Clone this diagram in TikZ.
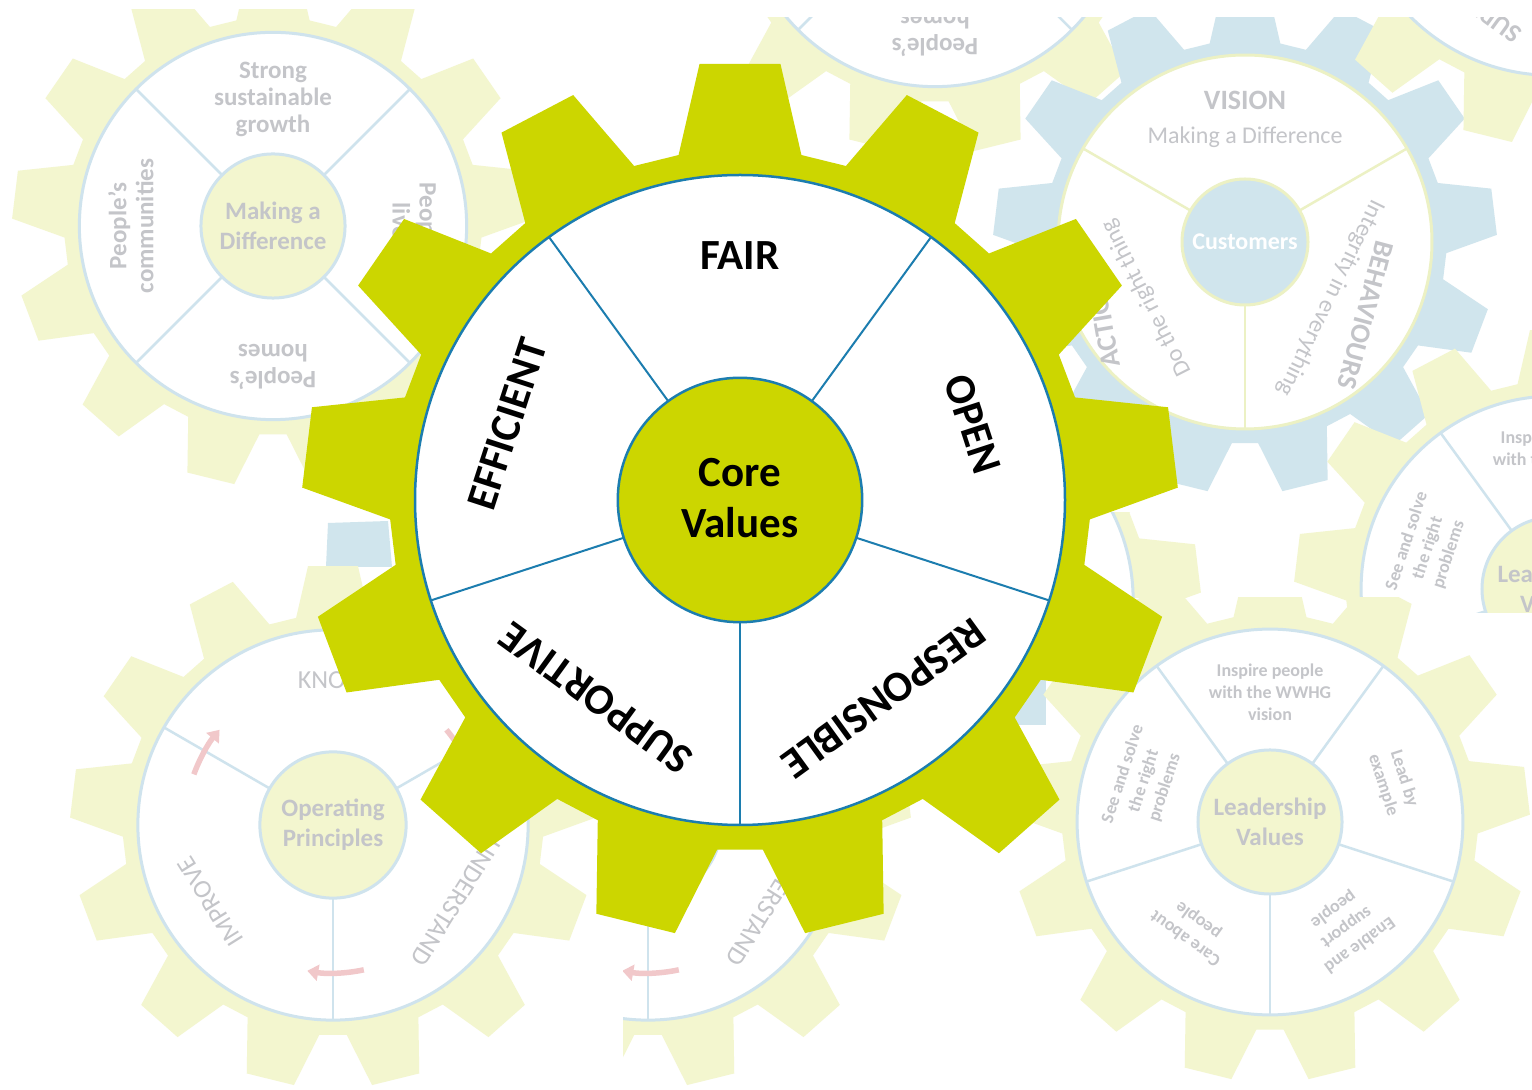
\documentclass[tikz,border=0pt]{standalone}
\usepackage{fontspec}
\setmainfont{Carlito}
\usetikzlibrary{arrows.meta}

\definecolor{cvgreen}{RGB}{204,214,0}
\definecolor{cvblue}{RGB}{28,125,175}
\definecolor{palegreen}{RGB}{243,246,207}
\definecolor{paleblue}{RGB}{208,229,237}
\definecolor{paleline}{RGB}{207,227,237}
\definecolor{paleyel}{RGB}{236,241,196}
\definecolor{txtgray}{RGB}{196,197,201}
\definecolor{palepink}{RGB}{241,200,202}

% 13-tooth gear outline on the unit circle (tip radius 1, root radius 0.8)
\newcommand{\gearbody}[1]{%
  \fill[#1] (79.9:0.8) \foreach \k in {0,...,12}{
     -- ({90+\k*27.6923-10.1}:0.8) -- ({90+\k*27.6923-5.3}:1)
     -- ({90+\k*27.6923+5.3}:1) -- ({90+\k*27.6923+10.1}:0.8)} -- cycle;}

% "Making a Difference" gear, four sectors
\newcommand{\diffgear}[1]{%
  \gearbody{palegreen}
  \filldraw[fill=white, pline] (0,0) circle (0.742);
  \foreach \a in {45,135,225,315} \draw[pdiv] (\a:0.276) -- (\a:0.742);
  \filldraw[fill=palegreen, pline] (0,0) circle (0.276);
  \node[gcore] (#1core) at (0,0) {Making a\\Difference};
  \node[gtxt] (#1top) at (90:0.485) {Strong\\sustainable\\growth};
  \node[gtxt, rotate=90] (#1left) at (180:0.545) {People’s\\communities};
  \node[gtxt, rotate=180] (#1bot) at (270:0.54) {People’s\\homes};
  \node[gtxt, rotate=-90] (#1right) at (0:0.545) {People’s\\lives};}

% "Operating Principles" gear, three sectors with turning arrows
\newcommand{\opgear}[1]{%
  \gearbody{palegreen}
  \filldraw[fill=white, pline] (0,0) circle (0.742);
  \foreach \a in {150,30,270} \draw[pdiv] (\a:0.278) -- (\a:0.742);
  \filldraw[fill=palegreen, pline] (0,0) circle (0.278);
  \draw[turnarrow] (160:0.563) arc[start angle=160, end angle=140, radius=0.563];
  \draw[turnarrow] (40:0.563) arc[start angle=40, end angle=20, radius=0.563];
  \draw[turnarrow] (-78:0.563) arc[start angle=-78, end angle=-100, radius=0.563];
  \node[gcore] (#1core) at (0,0) {Operating\\Principles};
  \node[optxt] (#1know) at (90:0.55) {KNOW};
  \node[optxt, rotate=122] (#1imp) at (212:0.55) {IMPROVE};
  \node[optxt, rotate=-122] (#1und) at (328:0.55) {UNDERSTAND};}

% "Leadership Values" gear, five sectors
\newcommand{\leadgear}[1]{%
  \gearbody{palegreen}
  \filldraw[fill=white, pline] (0,0) circle (0.742);
  \foreach \a in {126,54,-18,-90,198} \draw[pdiv] (\a:0.277) -- (\a:0.742);
  \filldraw[fill=palegreen, pline] (0,0) circle (0.277);
  \node[gcore] (#1core) at (0,0) {Leadership\\Values};
  \node[ltxt] (#1top) at (90:0.5) {Inspire people\\with the WWHG\\vision};
  \node[ltxt, rotate=-72] (#1right) at (18:0.5) {Lead by\\example};
  \node[ltxt, rotate=-144] (#1br) at (-54:0.5) {Enable and\\support\\people};
  \node[ltxt, rotate=144] (#1bl) at (234:0.51) {Care about\\people};
  \node[ltxt, rotate=72] (#1left) at (162:0.51) {See and solve\\the right\\problems};}

\begin{document}
\begin{tikzpicture}[x=1pt, y=1pt,
  gtxt/.style={text=txtgray, font=\bfseries\fontsize{25}{27}\selectfont, align=center, inner sep=0pt},
  gcore/.style={text=txtgray, font=\bfseries\fontsize{25}{30}\selectfont, align=center, inner sep=0pt},
  ltxt/.style={text=txtgray, font=\bfseries\fontsize{18}{22}\selectfont, align=center, inner sep=0pt},
  optxt/.style={text=txtgray, font=\fontsize{26}{30}\selectfont, inner sep=0pt},
  bhead/.style={text=txtgray, font=\bfseries\fontsize{28}{32}\selectfont, inner sep=0pt},
  bsub/.style={text=txtgray, font=\fontsize{24}{28}\selectfont, inner sep=0pt},
  mainlbl/.style={text=black, font=\bfseries\fontsize{43}{51}\selectfont, inner sep=0pt},
  palelbl/.style={text=txtgray, font=\bfseries\fontsize{26}{30}\selectfont, inner sep=0pt},
  pline/.style={draw=paleline, line width=3pt},
  pdiv/.style={paleline, line width=2.5pt},
  turnarrow/.style={palepink, line width=5.5pt, -{Triangle[width=16pt,length=11pt]}},
]
\useasboundingbox (0,0) rectangle (1532,1090);
\fill[white] (0,0) rectangle (1532,1090);

% ---- faded gears in the background ----
\begin{scope}
  \clip (0,0) rectangle (1532,1072);
  % upper middle copy of the "Making a Difference" gear
  \begin{scope}[shift={(935,1197)}, scale=261]
    \diffgear{dgb-}
  \end{scope}
\end{scope}

\begin{scope}
  \clip (0,0) rectangle (1532,1080);
  \begin{scope}[shift={(273,864)}, scale=261]
    \diffgear{dga-}
  \end{scope}
\end{scope}

\begin{scope}
  \clip (0,0) rectangle (1532,1072);
  % vision gear
  \begin{scope}[shift={(1245,848)}, scale=252]
    \gearbody{paleblue}
    \filldraw[fill=white, draw=paleyel, line width=3pt] (0,0) circle (0.742);
    \foreach \a in {150,30,270} \draw[paleyel, line width=2.5pt] (\a:0.25) -- (\a:0.742);
    \filldraw[fill=paleblue, draw=paleyel, line width=3pt] (0,0) circle (0.25);
    \node[text=white, font=\bfseries\fontsize{24}{28}\selectfont, inner sep=0pt] (cust) at (0,0) {Customers};
    \node[bhead] (vision) at (0,0.563) {VISION};
    \node[bsub] (vsub) at (0,0.417) {Making a Difference};
    \node[bhead, rotate=100] (actions) at (-0.567,-0.294) {ACTIONS};
    \node[bsub, rotate=117] (asub) at (-0.39,-0.222) {Do the right thing};
    \node[bhead, rotate=-105] (behav) at (0.478,-0.29) {BEHAVIOURS};
    \node[bsub, rotate=-116] (bsubt) at (0.34,-0.222) {Integrity in everything};
  \end{scope}
  % top right copy of the values gear
  \begin{scope}[shift={(1552,1215)}, scale=270]
    \gearbody{palegreen}
    \filldraw[fill=white, pline] (0,0) circle (0.742);
    \foreach \a in {126,54,-18,-90,198} \draw[pdiv] (\a:0.279) -- (\a:0.742);
    \filldraw[fill=palegreen, pline] (0,0) circle (0.279);
    \node[palelbl, rotate=144] (cvc-supp) at (234:0.559) {SUPPORTIVE};
    \node[palelbl, rotate=72] (cvc-eff) at (162:0.559) {EFFICIENT};
  \end{scope}
\end{scope}

% right middle copy of the leadership gear
\begin{scope}
  \clip (0,477) rectangle (1532,1072);
  \begin{scope}[shift={(1554,501)}, scale=260]
    \leadgear{lvb-}
  \end{scope}
\end{scope}

% operating principles copy behind the right side of the main gear
\begin{scope}
  \clip (1000,492) rectangle (1290,577);
  \begin{scope}[shift={(938,490)}, scale=263]
    \opgear{opc-}
  \end{scope}
\end{scope}

% stray blue fragments
\fill[paleblue] (328,567) -- (388,569) -- (392,523) -- (326,523) -- cycle;
\fill[paleblue] (1000,492) rectangle (1046,365);

% operating principles gear
\begin{scope}
  \clip (0,0) rectangle (1532,523);
  \begin{scope}[shift={(333,265)}, scale=263]
    \opgear{opa-}
  \end{scope}
\end{scope}

% lower middle copy of the operating principles gear
\begin{scope}
  \clip (623,0) rectangle (1000,523);
  \begin{scope}[shift={(648,265)}, scale=263]
    \opgear{opb-}
  \end{scope}
\end{scope}

% leadership values gear
\begin{scope}
  \clip (0,0) rectangle (1532,492);
  \begin{scope}[shift={(1270,268)}, scale=260]
    \leadgear{lva-}
  \end{scope}
\end{scope}

% ---- core values gear ----
\begin{scope}[shift={(740,590)}, scale=438]
  \gearbody{cvgreen}
  \filldraw[fill=white, draw=cvblue, line width=2.5pt] (0,0) circle (0.742);
  \foreach \a in {126,54,-18,-90,198} \draw[cvblue, line width=2pt] (\a:0.279) -- (\a:0.742);
  \filldraw[fill=cvgreen, draw=cvblue, line width=2.5pt] (0,0) circle (0.279);
  \node[mainlbl, align=center] (core) at (0,0.005) {Core\\Values};
  \node[mainlbl] (fair) at (90:0.559) {FAIR};
  \node[mainlbl, rotate=-72] (open) at (18:0.559) {OPEN};
  \node[mainlbl, rotate=-144] (resp) at (-54:0.559) {RESPONSIBLE};
  \node[mainlbl, rotate=144] (supp) at (234:0.559) {SUPPORTIVE};
  \node[mainlbl, rotate=72] (eff) at (162:0.559) {EFFICIENT};
\end{scope}
\end{tikzpicture}
\end{document}
